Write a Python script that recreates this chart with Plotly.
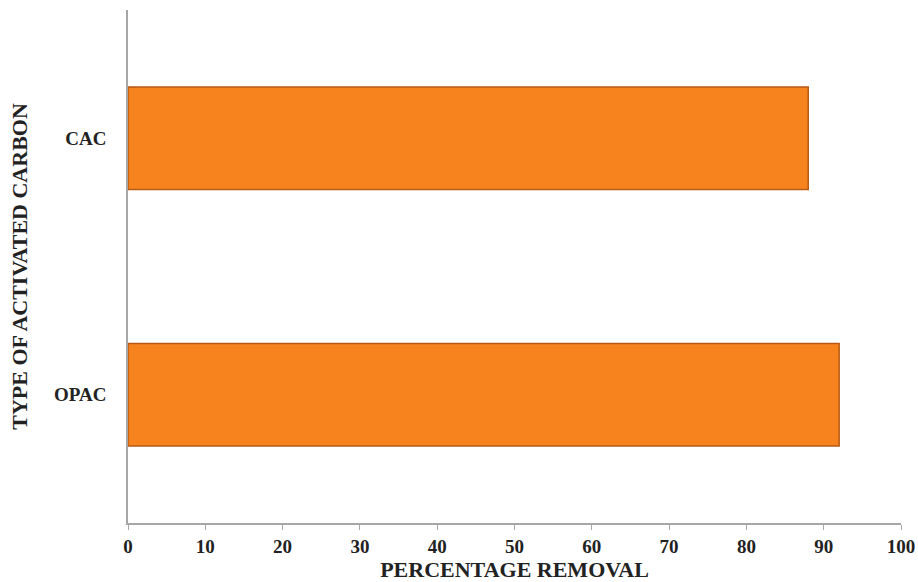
import plotly.graph_objects as go

# Adsorbent types and their percentage removal
carbon_types = ["OPAC", "CAC"]
removal_pct = [92, 88]

x_ticks = [0, 10, 20, 30, 40, 50, 60, 70, 80, 90, 100]

serif = "Liberation Serif, Times New Roman, serif"

fig = go.Figure()
fig.add_trace(go.Bar(
    x=removal_pct,
    y=carbon_types,
    orientation="h",
    marker=dict(color="#F7831E", line=dict(color="#B85A14", width=1.5)),
    hoverinfo="x+y",
))

fig.update_layout(
    width=918,
    height=582,
    margin=dict(l=128, r=17, t=10, b=59),
    paper_bgcolor="white",
    plot_bgcolor="white",
    bargap=0.6,
    showlegend=False,
    font=dict(family=serif, color="#222222"),
)

fig.update_xaxes(
    range=[0, 100],
    tickvals=x_ticks,
    automargin=False,
    showgrid=False,
    zeroline=False,
    showline=True,
    linecolor="#A6A6A6",
    linewidth=1.5,
    ticks="outside",
    ticklen=5,
    tickcolor="#A6A6A6",
    tickfont=dict(family=serif, size=19, color="#222222", weight="bold"),
    title=dict(text="PERCENTAGE REMOVAL", font=dict(family=serif, size=22, color="#222222", weight="bold"), standoff=8),
)

fig.update_yaxes(
    automargin=False,
    showgrid=False,
    zeroline=False,
    showline=True,
    linecolor="#A6A6A6",
    linewidth=1.5,
    ticks="",
    ticklabelstandoff=16,
    tickfont=dict(family=serif, size=19, color="#222222", weight="bold"),
    title=dict(text="TYPE OF ACTIVATED CARBON", font=dict(family=serif, size=22, color="#222222", weight="bold"), standoff=20),
)

fig.write_html("out.html")
